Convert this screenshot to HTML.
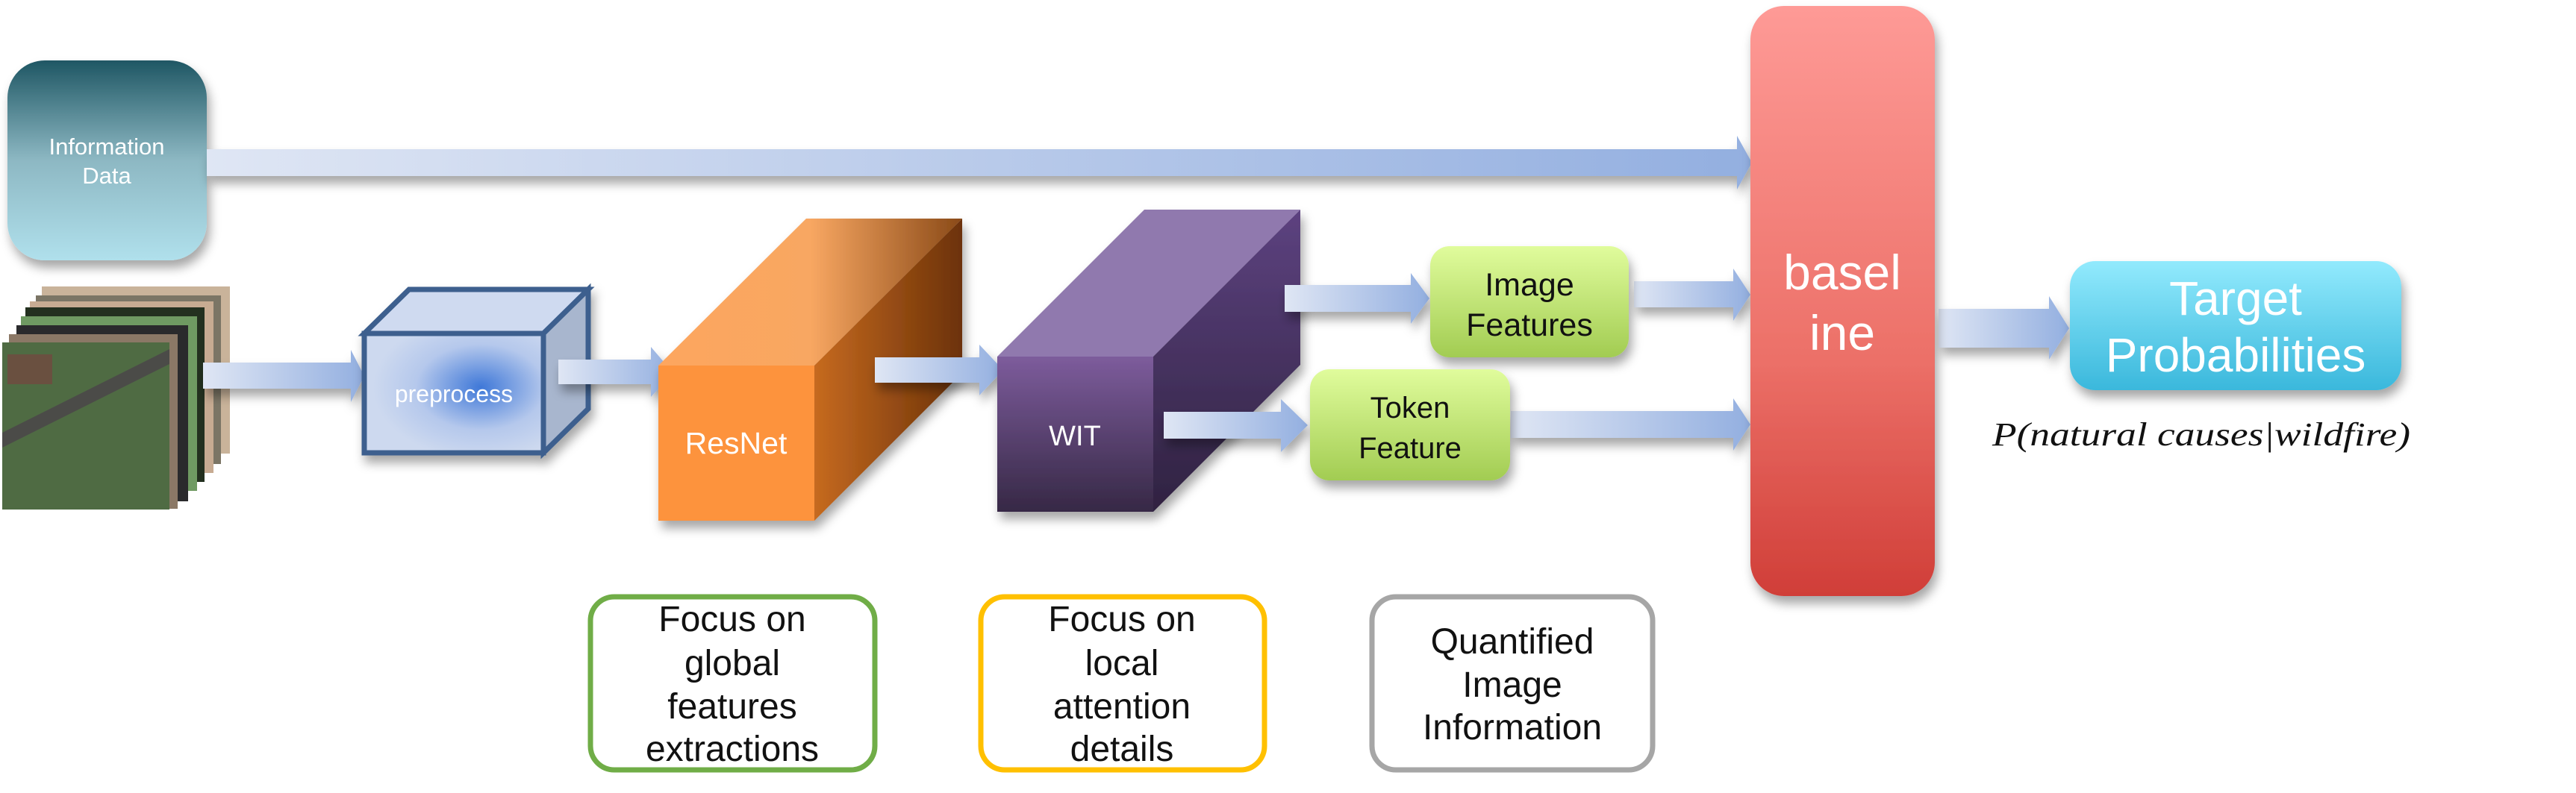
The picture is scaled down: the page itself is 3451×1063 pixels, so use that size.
<!DOCTYPE html>
<html><head><meta charset="utf-8"><style>
html,body{margin:0;padding:0;background:#fff;width:3451px;height:1063px;overflow:hidden}
svg text{font-family:"Liberation Sans",Arial,sans-serif}
</style></head><body>
<svg width="3451" height="1063" viewBox="0 0 3451 1063" xmlns="http://www.w3.org/2000/svg">
<defs>
<linearGradient id="arr" x1="0" x2="1" y1="0" y2="0"><stop offset="0" stop-color="#dfe6f4"/><stop offset="1" stop-color="#93afe0"/></linearGradient>
<linearGradient id="info" x1="0" x2="0" y1="0" y2="1"><stop offset="0" stop-color="#1f5764"/><stop offset="0.5" stop-color="#8db8c3"/><stop offset="1" stop-color="#b0e0ec"/></linearGradient>
<linearGradient id="base" x1="0" x2="0" y1="0" y2="1"><stop offset="0" stop-color="#fe9a96"/><stop offset="0.6" stop-color="#ec7068"/><stop offset="1" stop-color="#d03e38"/></linearGradient>
<linearGradient id="targ" x1="0" x2="0" y1="0" y2="1"><stop offset="0" stop-color="#92eafd"/><stop offset="1" stop-color="#3ab8dc"/></linearGradient>
<linearGradient id="grn" x1="0" x2="0" y1="0" y2="1"><stop offset="0" stop-color="#e0fc9c"/><stop offset="1" stop-color="#a2cc52"/></linearGradient>
<radialGradient id="pre" cx="0.65" cy="0.45" r="0.6"><stop offset="0" stop-color="#3f78d8"/><stop offset="0.6" stop-color="#b5c8ec"/><stop offset="1" stop-color="#cdd9ef"/></radialGradient>
<linearGradient id="rtop" x1="0" x2="1"><stop offset="0" stop-color="#fda65e"/><stop offset="0.5" stop-color="#f8a762"/><stop offset="1" stop-color="#8a4a18"/></linearGradient>
<linearGradient id="rside" x1="0" x2="1"><stop offset="0" stop-color="#c66a20"/><stop offset="1" stop-color="#6c3208"/></linearGradient>
<linearGradient id="wfront" x1="0" x2="0" y1="0" y2="1"><stop offset="0" stop-color="#7d5c9c"/><stop offset="1" stop-color="#362845"/></linearGradient>
<linearGradient id="wside" x1="0" x2="0" y1="0" y2="1"><stop offset="0" stop-color="#5d4280"/><stop offset="1" stop-color="#2f2240"/></linearGradient>
<filter id="sh" x="-20%" y="-20%" width="140%" height="150%"><feDropShadow dx="4" dy="10" stdDeviation="7" flood-color="#000" flood-opacity="0.35"/></filter>
</defs>

<!-- Information Data -->
<rect x="10" y="81" width="267" height="268" rx="50" fill="url(#info)" filter="url(#sh)"/>
<text x="143" y="207" font-size="31" fill="#fff" text-anchor="middle">Information</text>
<text x="143" y="246" font-size="31" fill="#fff" text-anchor="middle">Data</text>

<!-- long arrow -->
<g filter="url(#sh)"><polygon points="277,200 2327,200 2327,182 2347,218 2327,254 2327,236 277,236" fill="url(#arr)"/></g>

<!-- image stack -->
<g>
<rect x="56" y="384" width="252" height="224" fill="#c9b39a"/>
<rect x="48" y="396" width="248" height="226" fill="#7b7565"/>
<rect x="40" y="404" width="246" height="230" fill="#c7ab92"/>
<rect x="34" y="412" width="240" height="234" fill="#23301f"/>
<rect x="28" y="424" width="236" height="234" fill="#6f9a62"/>
<rect x="22" y="436" width="230" height="236" fill="#2a2a2c"/>
<rect x="12" y="448" width="226" height="234" fill="#8b7866"/>
<rect x="3" y="459" width="224" height="224" fill="#4f6b43"/>
<polygon points="3,580 227,468 227,488 3,600" fill="#4b4b48"/>
<rect x="10" y="475" width="60" height="40" fill="#6a5040"/>
</g>

<!-- arrow to preprocess -->
<g filter="url(#sh)"><polygon points="272,486 470,486 470,469 488,504 470,539 470,521 272,521" fill="url(#arr)"/></g>

<!-- preprocess cube -->
<g filter="url(#sh)">
<polygon points="488,447 548,388 788,388 728,447" fill="#cfdaf0" stroke="#3c5f8e" stroke-width="7"/>
<polygon points="728,447 788,388 788,548 728,607" fill="#a8b6ce" stroke="#3c5f8e" stroke-width="7"/>
<rect x="488" y="447" width="240" height="160" fill="url(#pre)" stroke="#3c5f8e" stroke-width="7"/>
</g>
<text x="608" y="539" font-size="32" fill="#fff" text-anchor="middle">preprocess</text>

<!-- arrow to resnet -->
<g filter="url(#sh)"><polygon points="748,482 872,482 872,465 902,500 872,532 872,515 748,515" fill="url(#arr)"/></g>

<!-- ResNet -->
<g filter="url(#sh)">
<polygon points="882,490 1080,293 1289,293 1091,490" fill="url(#rtop)"/>
<polygon points="1091,490 1289,293 1289,500 1091,698" fill="url(#rside)"/>
<rect x="882" y="490" width="209" height="208" fill="#fd933c"/>
</g>
<text x="986" y="608" font-size="41" fill="#fff" text-anchor="middle">ResNet</text>

<!-- arrow to WIT -->
<g filter="url(#sh)"><polygon points="1172,479 1312,479 1312,462 1344,496 1312,530 1312,513 1172,513" fill="url(#arr)"/></g>

<!-- WIT -->
<g filter="url(#sh)">
<polygon points="1336,478 1533,281 1742,281 1545,478" fill="#9079ae"/>
<polygon points="1545,478 1742,281 1742,489 1545,686" fill="url(#wside)"/>
<rect x="1336" y="478" width="209" height="208" fill="url(#wfront)"/>
</g>
<text x="1440" y="597" font-size="38" fill="#fff" text-anchor="middle">WIT</text>

<!-- arrows to features -->
<g filter="url(#sh)">
<polygon points="1721,382 1890,382 1890,366 1915,400 1890,434 1890,418 1721,418" fill="url(#arr)"/>
<polygon points="1559,552 1716,552 1716,535 1752,570 1716,606 1716,588 1559,588" fill="url(#arr)"/>
<polygon points="2189,377 2322,377 2322,360 2345,395 2322,430 2322,412 2189,412" fill="url(#arr)"/>
<polygon points="2024,551 2322,551 2322,534 2345,569 2322,604 2322,587 2024,587" fill="url(#arr)"/>
<polygon points="2597,414 2745,414 2745,397 2772,440 2745,482 2745,466 2597,466" fill="url(#arr)"/>
</g>

<!-- Image Features -->
<rect x="1916" y="330" width="266" height="149" rx="26" fill="url(#grn)" filter="url(#sh)"/>
<text x="2049" y="396" font-size="43" fill="#111" text-anchor="middle">Image</text>
<text x="2049" y="450" font-size="43" fill="#111" text-anchor="middle">Features</text>

<!-- Token Feature -->
<rect x="1755" y="495" width="268" height="149" rx="26" fill="url(#grn)" filter="url(#sh)"/>
<text x="1889" y="560" font-size="40" fill="#111" text-anchor="middle">Token</text>
<text x="1889" y="614" font-size="40" fill="#111" text-anchor="middle">Feature</text>

<!-- baseline -->
<rect x="2345" y="8" width="247" height="791" rx="45" fill="url(#base)" filter="url(#sh)"/>
<text x="2468" y="388" font-size="66" fill="#fff" text-anchor="middle">basel</text>
<text x="2468" y="469" font-size="66" fill="#fff" text-anchor="middle">ine</text>

<!-- Target -->
<rect x="2773" y="350" width="444" height="173" rx="34" fill="url(#targ)" filter="url(#sh)"/>
<text x="2995" y="422" font-size="64" fill="#fff" text-anchor="middle">Target</text>
<text x="2995" y="498" font-size="64" fill="#fff" text-anchor="middle">Probabilities</text>

<text x="2669" y="597" font-size="44" font-style="italic" fill="#111" textLength="560" lengthAdjust="spacingAndGlyphs" style="font-family:'Liberation Serif',serif">P(natural causes|wildfire)</text>

<!-- bottom boxes -->
<rect x="791" y="800" width="381" height="232" rx="32" fill="#fff" stroke="#70ad47" stroke-width="7"/>
<g font-size="48" fill="#111" text-anchor="middle">
<text x="981" y="846">Focus on</text>
<text x="981" y="905">global</text>
<text x="981" y="963">features</text>
<text x="981" y="1020">extractions</text>
</g>
<rect x="1314" y="800" width="380" height="232" rx="32" fill="#fff" stroke="#ffc000" stroke-width="7"/>
<g font-size="48" fill="#111" text-anchor="middle">
<text x="1503" y="846">Focus on</text>
<text x="1503" y="905">local</text>
<text x="1503" y="963">attention</text>
<text x="1503" y="1020">details</text>
</g>
<rect x="1838" y="800" width="376" height="232" rx="32" fill="#fff" stroke="#a6a6a6" stroke-width="7"/>
<g font-size="48" fill="#111" text-anchor="middle">
<text x="2026" y="876">Quantified</text>
<text x="2026" y="934">Image</text>
<text x="2026" y="991">Information</text>
</g>
</svg>
</body></html>
